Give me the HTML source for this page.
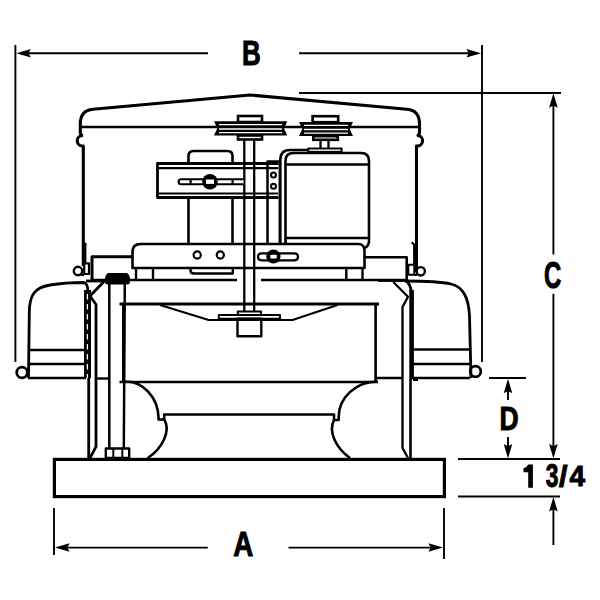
<!DOCTYPE html>
<html><head><meta charset="utf-8">
<style>
html,body{margin:0;padding:0;background:#fff;}
svg{display:block;}
text{font-family:"Liberation Sans",sans-serif;font-weight:bold;fill:#000;}
</style></head>
<body>
<svg width="600" height="600" viewBox="0 0 600 600">
<rect width="600" height="600" fill="#fff"/>
<g fill="none" stroke="#000" stroke-width="1.9" stroke-linecap="butt">
  <!-- B dimension -->
  <line x1="15.4" y1="45" x2="15.4" y2="362"/>
  <line x1="482" y1="45" x2="482" y2="362"/>
  <line x1="20" y1="53.2" x2="208" y2="53.2"/>
  <line x1="299" y1="53.2" x2="477" y2="53.2"/>
  <!-- C dimension -->
  <line x1="299" y1="93" x2="561" y2="93"/>
  <line x1="553.4" y1="100" x2="553.4" y2="254.5"/>
  <line x1="553.4" y1="293.8" x2="553.4" y2="452"/>
  <line x1="458" y1="459" x2="560" y2="459"/>
  <line x1="458" y1="496.5" x2="560" y2="496.5"/>
  <line x1="553.4" y1="503" x2="553.4" y2="545"/>
  <!-- D -->
  <line x1="489" y1="378" x2="526" y2="378"/>
  <line x1="508" y1="385" x2="508" y2="400"/>
  <line x1="508" y1="437" x2="508" y2="452"/>
  <!-- A -->
  <line x1="54" y1="508" x2="54" y2="555"/>
  <line x1="444" y1="508" x2="444" y2="559"/>
  <line x1="59" y1="547.6" x2="207.8" y2="547.6"/>
  <line x1="288.5" y1="547.6" x2="439" y2="547.6"/>
</g>
<g fill="#000" stroke="none">
  <path d="M16.3,53.2 L30.80,57.50 L28.60,53.20 L30.80,48.90 Z"/>
  <path d="M481,53.2 L466.50,48.90 L468.70,53.20 L466.50,57.50 Z"/>
  <path d="M553.4,93.3 L549.1,107.8 L553.4,105.6 L557.7,107.8 Z"/>
  <path d="M553.40,458.5 L557.70,444.00 L553.40,446.20 L549.10,444.00 Z"/>
  <path d="M553.40,497 L549.10,511.50 L553.40,509.30 L557.70,511.50 Z"/>
  <path d="M508,378.8 L503.70,393.30 L508.00,391.10 L512.30,393.30 Z"/>
  <path d="M508,458.5 L512.30,444.00 L508.00,446.20 L503.70,444.00 Z"/>
  <path d="M55,547.5 L69.50,551.80 L67.30,547.50 L69.50,543.20 Z"/>
  <path d="M443,547.5 L428.50,543.20 L430.70,547.50 L428.50,551.80 Z"/>
</g>
<g stroke="#000" stroke-width="1">
  <text transform="translate(242.00 65.00) scale(0.745 1)" font-size="34.80">B</text>
  <text transform="translate(543.90 287.90) scale(0.652 1)" font-size="36.64">C</text>
  <text transform="translate(499.40 430.00) scale(0.817 1)" font-size="32.41">D</text>
  <text transform="translate(233.13 556.20) scale(0.795 1)" font-size="34.90">A</text>
  <path stroke="none" d="M528.2,464.6 L532.9,464.6 L532.9,487.8 L528.2,487.8 L528.2,472.2 Q526,472.4 523.5,472.2 L523.5,468.3 Q527,467.4 528.2,464.6 Z"/>
  <text transform="translate(545.72 486.67) scale(0.702 1)" font-size="32.42">3</text>
  <text transform="translate(558.97 486.67) scale(1.020 1)" font-size="29.86">&#47;</text>
  <text transform="translate(569.40 486.30) scale(0.933 1)" font-size="29.94">4</text>
</g>

<!-- FAN -->
<g fill="none" stroke="#000" stroke-width="2.6" stroke-linejoin="round">
  <!-- base curb -->
  <rect x="54.4" y="459.4" width="390" height="37.2" stroke-width="3.2" stroke-linejoin="miter"/>
  <!-- hood -->
  <path d="M83.3,266 L83.3,146 A4.7,4.7 0 0 1 81.8,135.5 L80.3,133 L80.3,124 Q80.3,110.3 93,109.2 L250,95 L407,109.2 Q419.5,110.3 419.5,124 L419.5,133 L418,135.5 A4.7,4.7 0 0 1 416.5,146 L416.5,272" stroke-width="3.1"/>
  <line x1="80" y1="127" x2="419.5" y2="127" stroke-width="2.7"/>
  <path d="M85.3,244 L85.3,264 M83.5,242.3 L86.5,245" stroke-width="2.2"/>
  <path d="M414.2,244 L414.2,264 M411.7,242.3 L414.5,245" stroke-width="2.2"/>

  <!-- back motor -->
  <path d="M188.5,163 L188.5,156 Q188.5,151 193.5,151 L227.5,151 Q232.5,151 232.5,156 L232.5,163"/>
  <path d="M188.5,197 L188.5,244 M232.5,197 L232.5,244"/>
  <path d="M190.5,268 L190.5,270.5 Q190.5,273.5 194,273.5 L232.8,273.5 L232.8,268" stroke-width="2.4"/>
  <!-- shaft -->
  <path d="M244.3,140 L244.3,311 M254.2,140 L254.2,311" stroke-width="2.3"/>
  <!-- bracket -->
  <path d="M278.5,163.5 L157.5,163.5 L157.5,197.5 L278.5,197.5" stroke-width="2.8"/>
  <path d="M159,168.2 L278,168.2 M159,193.5 L278,193.5" stroke-width="2.2"/>
  <path d="M243.5,178.3 L181.3,178.3 Q177.5,178.3 177.5,181.8 Q177.5,185.3 181.3,185.3 L243.5,185.3 Z" fill="#000" stroke="none"/>
  <!-- vertical plate -->
  <path d="M267.5,244 L267.5,161.5 L279.8,161.5 L279.8,244" stroke-width="2.5"/>
  <circle cx="273.5" cy="175" r="2.5" stroke-width="2"/>
  <circle cx="273.5" cy="186.3" r="2.5" stroke-width="2"/>
  <!-- front motor -->
  <path d="M280.3,244 L280.3,160 Q280.3,150 290,150 L308,150" stroke-width="2.6"/>
  <path d="M285.5,244 L285.5,161 Q285.5,153 293.5,153 L361,153 Q369,153 369,161 L369,241 Q369,245.5 365,248" stroke-width="2.6"/>
  <path d="M285.5,164.5 L369,164.5 M285.5,238 L369,238" stroke-width="2.5"/>
  <!-- base plate -->
  <path d="M132.5,268 L132.5,252 Q132.5,244 140.5,244 L358,244 Q364.5,244 364.5,250.5 L364.5,268 Z" stroke-width="2.6"/>
  <circle cx="197.2" cy="255" r="3.6" stroke-width="2.2"/>
  <circle cx="220.3" cy="255" r="3.6" stroke-width="2.2"/>
  <path d="M261.5,253.3 L294.5,253.3 Q298,253.3 298,256.8 Q298,260.3 294.5,260.3 L261.5,260.3 Q258,260.3 258,256.8 Q258,253.3 261.5,253.3 Z" stroke-width="2.2"/>
  <!-- feet -->
  <path d="M136,268 L136,280 M153,268 L153,280 M346.3,268 L346.3,280 M362.5,268 L362.5,280" stroke-width="2.4"/>
  <!-- boxes -->
  <path d="M132,256.7 L92,256.7 L92,281" stroke-width="3"/>
  <path d="M364.5,257.3 L406.7,257.3 L406.7,280" stroke-width="2.6"/>
  <path d="M93,280 L237,280 M261,280 L407,280" stroke-width="2.6"/>
  <!-- small rects & circles -->
  <circle cx="78" cy="271" r="4.2" stroke-width="2.4"/>
  <rect x="84.2" y="263.3" width="4.8" height="10.7" stroke-width="2.2"/>
  <circle cx="420.7" cy="271.3" r="4.2" stroke-width="2.4"/>
  <rect x="408.3" y="264.7" width="6" height="10" stroke-width="2"/>
  <path d="M81,275 L84,275 M414.3,275 L417,275" stroke-width="2"/>
  <!-- pipe -->
  <path d="M109.3,284 L109.3,448.5 M124.8,284 L123.8,448.5" stroke-width="2.5"/>
  <rect x="105.8" y="448.5" width="23.4" height="9.5" stroke-width="2.4"/>
  <path d="M113.3,448.5 L113.3,458 M122.3,448.5 L122.3,458" stroke-width="2"/>
  <!-- left blower housing -->
  <path d="M28.5,378 L29.3,313 C29.3,296 34,287.5 50,285 C62,283 74,282.5 84,282.5 Q87.5,283.5 88,291" stroke-width="2.8"/>
  <path d="M86,281 L105,281" stroke-width="2.8"/>
  <path d="M28,350 L86,350 M28,364 L86,364 M28,378 L86,378" stroke-width="2.6"/>
  <circle cx="22" cy="372.5" r="5.3" stroke-width="2.8"/>
  <path d="M87.5,290 L87.5,378" stroke-width="7"/>
  <path d="M87.4,294 L87.4,378" stroke="#fff" stroke-width="1.3" stroke-dasharray="5.5,4.5"/>
  <path d="M88.7,378 L88.7,458" stroke-width="2.8"/>
  <path d="M104,281.5 L90,296 L96,304.5 L96,446.7 L90,458" stroke-width="2.8"/>
  <path d="M96,378.5 L109,378.5" stroke-width="2.4"/>
  <!-- right blower housing -->
  <path d="M405,281 C425,281 440,281.5 451,284 C463,287 468.5,297 469.5,316 L471,378" stroke-width="2.8"/>
  <path d="M412,349.5 L470,349.5 M412,364 L470,364 M412,378 L470,378" stroke-width="2.6"/>
  <circle cx="475.5" cy="371.5" r="5.3" stroke-width="2.8"/>
  <path d="M411.6,290 L411.6,379" stroke-width="4.6"/>
  <path d="M410.5,379 L410.5,458" stroke-width="2.6"/>
  <path d="M413,379.5 L418,379.5" stroke-width="3"/>
  <path d="M393.3,282 L408,296.7 L402.5,307 L402.5,448 L408,458" stroke-width="2.3"/>
  <path d="M405.5,280.8 Q410.5,283.5 411.2,292" stroke-width="2.8"/>
  <path d="M378,281.2 L405,281.2" stroke-width="1.4"/>
  <!-- inlet -->
  <path d="M119.5,304 L379,304" stroke-width="2.8"/>
  <path d="M160,305 L208.7,320 L292.5,320 L337.5,305" stroke-width="2.1"/>
  <path d="M123.3,304 L123.3,382 M375.6,304 L375.6,382" stroke-width="2.6"/>
  <path d="M119.5,382 L378,382 M376,378 L402.5,378" stroke-width="2.6"/>
  <!-- hub -->
  <rect x="237.8" y="311.5" width="23.2" height="3.5" stroke-width="2"/>
  <rect x="218.8" y="315" width="61.2" height="3.8" stroke-width="2"/>
  <rect x="237.5" y="318.8" width="23.8" height="17.5" stroke-width="2.4"/>
  <!-- venturi -->
  <path d="M125.5,381.5 A33,37 0 0 1 158.5,417 L158.5,419.5 L164.2,419.5 L164.2,414.5 L334,414.5 L334,420 L338.7,420 L338.7,417 A39,35.5 0 0 1 377.7,381.5" stroke-width="2.6"/>
  <path d="M164.2,419.5 C171,430 163,448 147.7,458 M334,420 C328,432 336,448 350,458" stroke-width="2.6"/>
</g>
<g fill="none" stroke="#fff" stroke-width="3">
  <path d="M180,181.8 L189.5,181.8 M191.7,181.8 L203,181.8 M217,181.8 L231.5,181.8 M233.7,181.8 L243.5,181.8"/>
</g>
<g fill="#000" stroke="none">
  <!-- bolts -->
  <circle cx="210" cy="181.7" r="7.8"/>
  <circle cx="273.4" cy="256.5" r="7.1"/>
  <!-- damper cap -->
  <path d="M108,273 L127,273 Q130,275 130,278 L130,282 Q130,284.5 127,284.5 L108,284.5 Q105,284.5 105,282 L105,278 Q105,275 108,273 Z"/>
</g>
<g fill="#fff" stroke="none">
  <rect x="206" y="179.5" width="8" height="4.4"/>
  <rect x="270.3" y="254.8" width="6.5" height="3.6" rx="1"/>
</g>

<!-- pulleys -->
<g fill="#000" stroke="none">
  <path d="M214,121.3 L287.3,121.3 L284,128.5 L287.3,135.5 L214,135.5 L217.3,128.5 Z"/>
  <path d="M299,122 L353,122 L349.7,129 L353,136 L299,136 L302.3,129 Z"/>
</g>
<g fill="none" stroke="#000" stroke-width="2.6">
  <rect x="238" y="116" width="24" height="6"/>
  <rect x="238" y="135.5" width="24" height="4"/>
  <rect x="312.6" y="116.2" width="25.6" height="6"/>
  <rect x="313.3" y="136.2" width="24.5" height="3.6"/>
  <path d="M320.5,140 L320.5,148 M328.5,140 L328.5,148" stroke-width="2.3"/>
  <rect x="308.3" y="148.5" width="33.3" height="3.3" fill="#fff" stroke-width="1.9"/>
</g>
<g fill="none" stroke="#fff" stroke-width="1.3">
  <path d="M219,124.7 L282,124.7 M219,129 L282,129 M219,132.7 L282,132.7"/>
  <path d="M304,125.3 L348,125.3 M304,129.5 L348,129.5 M304,133.2 L348,133.2"/>
</g>
</svg>
</body></html>
